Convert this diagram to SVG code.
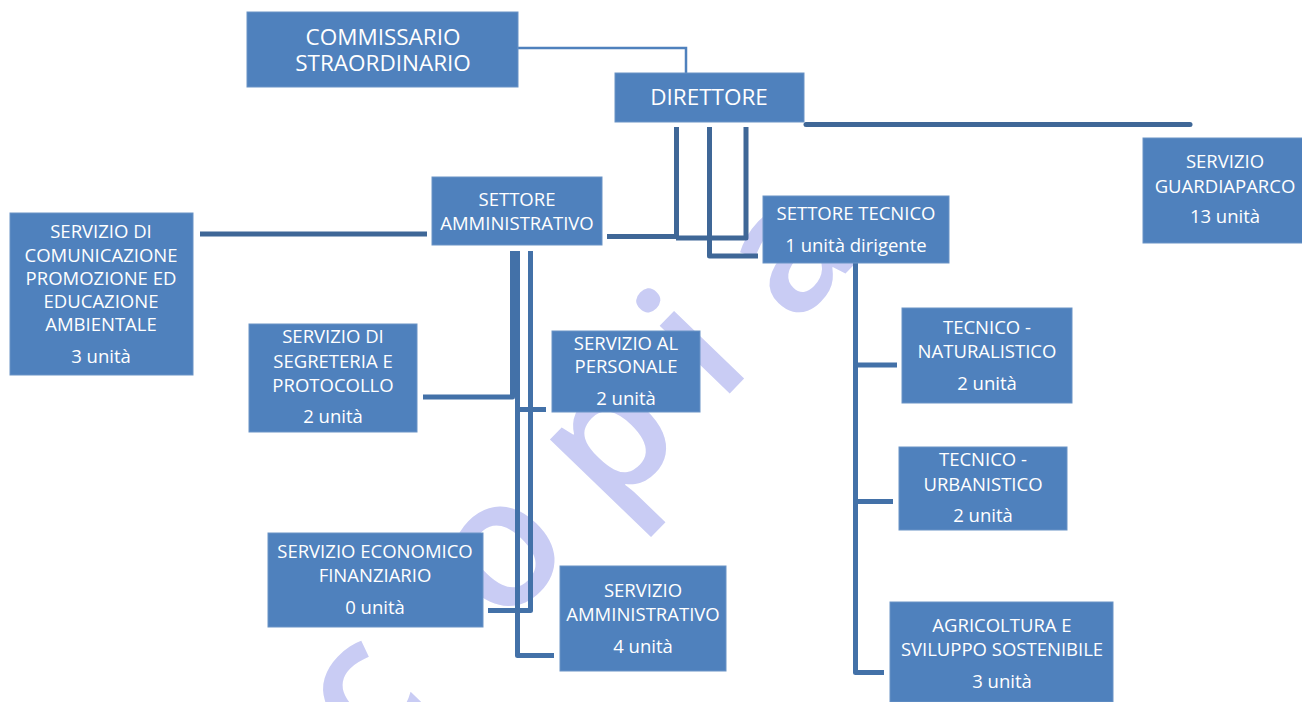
<svg xmlns="http://www.w3.org/2000/svg" width="1302" height="702" viewBox="0 0 1302 702">
<style>
.box{fill:#4F81BD;stroke:#6A93C6;stroke-width:1}
.t{font-family:"Open Sans","Liberation Sans",sans-serif;font-size:18.5px;fill:#FFFFFF;text-anchor:middle}
.tl{font-family:"Open Sans","Liberation Sans",sans-serif;font-size:22.5px;fill:#FFFFFF;text-anchor:middle}
.c{fill:none;stroke:#4371A8;stroke-width:5;stroke-linejoin:round;stroke-linecap:butt}
.cd{fill:none;stroke:#3F6797;stroke-width:5;stroke-linejoin:round}
.wm{font-family:"Open Sans","Liberation Sans",sans-serif;font-size:180px;font-weight:600;fill:#C9CCF4;text-anchor:middle}
</style>
<rect width="1302" height="702" fill="#FFFFFF"/>
<text class="wm" transform="rotate(-46 505 557)" x="306 505 662 789 922" y="605">copia</text>
<g id="connectors">
<polyline points="518,48 686,48 686,74" fill="none" stroke="#4F81BD" stroke-width="2.5"/>
<line x1="806" y1="124.5" x2="1190" y2="124.5" class="cd" stroke-linecap="round"/>
<line x1="200" y1="234" x2="427" y2="234" class="cd" stroke-width="6"/>
<line x1="607" y1="236.5" x2="676" y2="236.5" class="cd" stroke-width="8"/>
<polyline points="676.5,127 676.5,237" class="cd"/>
<polyline points="746,127 746,238 676,238" class="cd"/>
<polyline points="709.5,127 709.5,256 758,256" class="cd"/>
<polyline points="512.5,251 512.5,397 423,397" class="c"/>
<polyline points="517.5,251 517.5,655.5 554,655.5" class="c"/>
<polyline points="530.5,251 530.5,610.5 488,610.5" class="c"/>
<line x1="517" y1="409.5" x2="546" y2="409.5" class="c"/>
<polyline points="855.5,263 855.5,672.5 884,672.5" class="c"/>
<line x1="855" y1="365" x2="897" y2="365" class="c"/>
<line x1="855" y1="501.5" x2="893" y2="501.5" class="c"/>
</g>
<g id="commissario">
<rect class="box" x="247" y="12" width="271" height="75"/>
<text class="tl" x="383" y="45">COMMISSARIO</text>
<text class="tl" x="383" y="71">STRAORDINARIO</text>
</g>
<g id="direttore">
<rect class="box" x="615" y="73" width="189" height="49"/>
<text class="tl" x="709" y="105">DIRETTORE</text>
</g>
<g id="guardiaparco">
<rect class="box" x="1143" y="138" width="160" height="105"/>
<text class="t" x="1225" y="168">SERVIZIO</text>
<text class="t" x="1225" y="193">GUARDIAPARCO</text>
<text class="t" x="1225" y="223">13 unità</text>
</g>
<g id="settore-amministrativo">
<rect class="box" x="432" y="177" width="170" height="68"/>
<text class="t" x="517" y="206">SETTORE</text>
<text class="t" x="517" y="230">AMMINISTRATIVO</text>
</g>
<g id="settore-tecnico">
<rect class="box" x="763" y="196" width="186" height="67"/>
<text class="t" x="856" y="220">SETTORE TECNICO</text>
<text class="t" x="856" y="252">1 unità dirigente</text>
</g>
<g id="comunicazione">
<rect class="box" x="10" y="213" width="183" height="162"/>
<text class="t" x="101" y="238">SERVIZIO DI</text>
<text class="t" x="101" y="262">COMUNICAZIONE</text>
<text class="t" x="101" y="285">PROMOZIONE ED</text>
<text class="t" x="101" y="308">EDUCAZIONE</text>
<text class="t" x="101" y="331">AMBIENTALE</text>
<text class="t" x="101" y="363">3 unità</text>
</g>
<g id="segreteria">
<rect class="box" x="249" y="324" width="168" height="108"/>
<text class="t" x="333" y="343">SERVIZIO DI</text>
<text class="t" x="333" y="368">SEGRETERIA E</text>
<text class="t" x="333" y="392">PROTOCOLLO</text>
<text class="t" x="333" y="423">2 unità</text>
</g>
<g id="personale">
<rect class="box" x="552" y="331" width="148" height="81"/>
<text class="t" x="626" y="350">SERVIZIO AL</text>
<text class="t" x="626" y="373">PERSONALE</text>
<text class="t" x="626" y="405">2 unità</text>
</g>
<g id="economico">
<rect class="box" x="268" y="533" width="215" height="94"/>
<text class="t" x="375" y="558">SERVIZIO ECONOMICO</text>
<text class="t" x="375" y="582">FINANZIARIO</text>
<text class="t" x="375" y="614">0 unità</text>
</g>
<g id="amministrativo">
<rect class="box" x="560" y="566" width="166" height="105"/>
<text class="t" x="643" y="597">SERVIZIO</text>
<text class="t" x="643" y="621">AMMINISTRATIVO</text>
<text class="t" x="643" y="653">4 unità</text>
</g>
<g id="naturalistico">
<rect class="box" x="902" y="308" width="170" height="95"/>
<text class="t" x="987" y="334">TECNICO -</text>
<text class="t" x="987" y="358">NATURALISTICO</text>
<text class="t" x="987" y="390">2 unità</text>
</g>
<g id="urbanistico">
<rect class="box" x="899" y="447" width="168" height="83"/>
<text class="t" x="983" y="466">TECNICO -</text>
<text class="t" x="983" y="491">URBANISTICO</text>
<text class="t" x="983" y="522">2 unità</text>
</g>
<g id="agricoltura">
<rect class="box" x="890" y="602" width="223" height="100"/>
<text class="t" x="1002" y="632">AGRICOLTURA E</text>
<text class="t" x="1002" y="656">SVILUPPO SOSTENIBILE</text>
<text class="t" x="1002" y="688">3 unità</text>
</g>
</svg>
